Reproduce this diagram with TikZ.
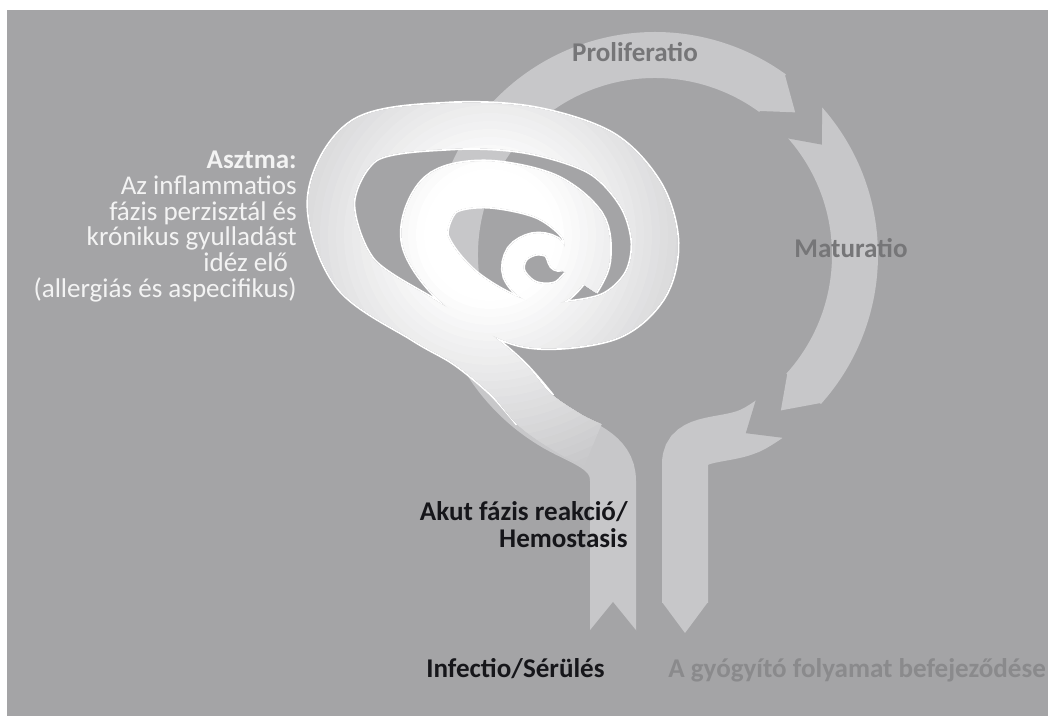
\documentclass[tikz,border=0pt]{standalone}
\usepackage{fontspec}
\setmainfont{Carlito}
\usetikzlibrary{calc}

\definecolor{bggray}{RGB}{164,164,166}
\definecolor{ribbongray}{RGB}{199,199,201}
\definecolor{coilgray}{RGB}{200,200,202}
\definecolor{phasegray}{RGB}{118,118,120}
\definecolor{endgray}{RGB}{138,138,140}
\definecolor{asthmawhite}{RGB}{243,243,243}
\definecolor{darktext}{RGB}{22,22,26}

% centre line of the coil (pixel units)
\tikzset{
  coil/.style={insert path={plot[smooth,tension=0.55] coordinates {
    (593,271) (570,282) (535,306) (507,338) (467,371) (424,396) (355,443)
    (331,516) (365,576) (450,590) (530,586) (601,563) (641,521) (655,473)
    (644,429) (605,398) (528,392) (462,426) (425,476) (440,521) (485,532)
    (545,520) (582,491) (587,458) (577,436)}}},
  coil rim/.style={insert path={plot[smooth,tension=0.55] coordinates {
    (535,306) (507,338) (467,371) (424,396) (355,443)
    (331,516) (365,576) (450,590) (530,586) (601,563) (641,521) (655,473)
    (644,429) (605,398) (528,392) (462,426) (425,476) (440,521) (485,532)
    (545,520) (582,491) (587,458) (577,436)}}},
  coil hook/.style={insert path={plot[smooth,tension=0.6] coordinates {
    (580,445) (560,424) (532,424) (514,442) (517,462) (534,472) (552,469) (559,456)}}}
}

\begin{document}
\begin{tikzpicture}[x=0.02cm,y=0.02cm,
    band/.style={draw=ribbongray,line width=0.92cm},
    tipfill/.style={fill=ribbongray},
    notchcut/.style={fill=bggray},
    coilband/.style={line width=0.9cm},
    coiltip/.style={line width=0.4cm,line cap=round},
    phase/.style={font=\fontsize{15.4}{15.4}\selectfont\bfseries,text=phasegray},
    note/.style={font=\fontsize{15.4}{15.4}\selectfont\bfseries,text=darktext,inner sep=0pt}
    ]
    \def\rad{200}    % cycle radius
    \def\rout{223}   % outer edge of a band
    \def\rin{177}    % inner edge of a band
    \coordinate (C) at (655,461); % cycle centre
    \coordinate (G) at (490,481); % brightest spot of the coil

    \useasboundingbox (0,0) rectangle (1048,716);
    \fill[white] (0,0) rectangle (1048,716);
    \fill[bggray] (7,0) rectangle (1048,706);
    \clip (0,0) rectangle (1048,716);

    % injury -> proliferation
    \draw[band] (613,83) -- (613,235) to[out=90,in=-30] ($(C)+(240:\rad)$)
        arc[start angle=240,end angle=54,radius=\rad];
    \fill[tipfill] ($(C)+(54.5:\rout)$) -- ($(C)+(45.5:\rad)$) -- ($(C)+(54.5:\rin)$) -- cycle;
    \fill[notchcut] (587,82) -- (613,114) -- (639,82) -- cycle;

    % maturation
    \draw[band] ($(C)+(41.5:\rad)$) arc[start angle=41.5,end angle=-42,radius=\rad];
    \fill[tipfill] ($(C)+(-41.5:\rout)$) -- ($(C)+(-51:\rad)$) -- ($(C)+(-41.5:\rin)$) -- cycle;
    \fill[notchcut] ($(C)+(42:225)$) -- ($(C)+(33.5:\rad)$) -- ($(C)+(42:175)$) -- cycle;

    % resolution
    \draw[band] ($(C)+(-55:\rad)$) arc[start angle=-55,end angle=-60,radius=\rad]
        to[out=-150,in=90] (685,252) -- (685,113);
    \fill[tipfill] (662,114) -- (685,83) -- (708,114) -- cycle;
    \fill[notchcut] ($(C)+(-54.5:225)$) -- ($(C)+(-63:\rad)$) -- ($(C)+(-54.5:175)$) -- cycle;

    % the chronic coil: white rim, then grey fading to white towards G
    \draw[white,line width=0.98cm] [coil rim];
    \draw[white,line width=0.48cm,line cap=round] [coil hook];
    \draw[coilgray,coilband] [coil];
    \draw[coilgray,coiltip] [coil hook];
    \foreach \r in {250,242,...,66} {
        \pgfmathsetmacro\mix{min(100,max(0,(\r-70)/1.8))}
        \begin{scope}
            \clip (G) circle[radius=\r];
            \draw[coilgray!\mix!white,coilband] [coil];
            \draw[coilgray!\mix!white,coiltip] [coil hook];
        \end{scope}
    }

    \node[phase,anchor=base] (prolif) at (635,654) {Proliferatio};
    \node[phase,anchor=base] (matur) at (851,458) {Maturatio};
    \node[note,text=asthmawhite,font=\fontsize{15.4}{14.6}\selectfont,align=right,anchor=north east]
        (asthma) at (297,565) {\textbf{Asztma:}\\Az inflammatios\\fázis perzisztál és\\
        krónikus gyulladást\\idéz elő\kern5pt\\(allergiás és aspecifikus)};
    \node[note,align=right,anchor=north east] (acute) at (628,215) {Akut fázis reakció/\\Hemostasis};
    \node[note,anchor=base west] (injury) at (426,38) {Infectio/Sérülés};
    \node[note,text=endgray,anchor=base west] (healed) at (668,38) {A gyógyító folyamat befejeződése};
\end{tikzpicture}
\end{document}
